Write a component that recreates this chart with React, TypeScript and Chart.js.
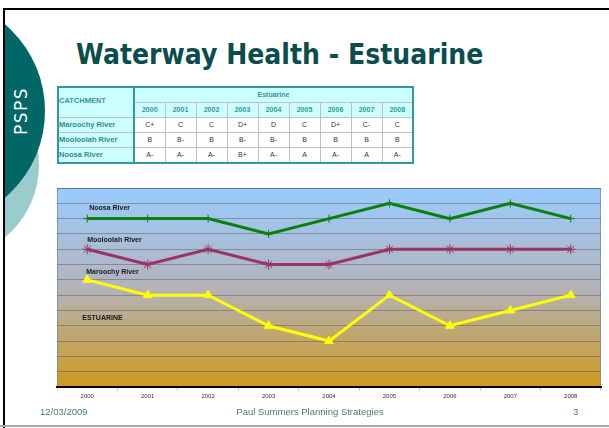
import React, { useEffect, useRef } from "react";
import { Chart, registerables } from "chart.js";

Chart.register(...registerables);

// ---- data ----
const years = ["2000", "2001", "2002", "2003", "2004", "2005", "2006", "2007", "2008"];
const gradeOrder = ["D", "D+", "C-", "C", "C+", "B-", "B", "B+", "A-", "A"]; // chart levels 3..12
const maroochyGrades = ["C+", "C", "C", "D+", "D", "C", "D+", "C-", "C"];
const mooloolahGrades = ["B", "B-", "B", "B-", "B-", "B", "B", "B", "B"];
const noosaGrades = ["A-", "A-", "A-", "B+", "A-", "A", "A-", "A", "A-"];
const rivers = ["Maroochy River", "Mooloolah River", "Noosa River"];
const chartLabels = ["Noosa River", "Mooloolah River", "Maroochy River", "ESTUARINE"];
const chartLabelLevels = [11.67, 9.59, 7.54, 4.48];
const yMin = 0;
const yMax = 13;

const level = (g: string) => gradeOrder.indexOf(g) + 3;

const TEAL = "#339999";

function ChartBox() {
  const ref = useRef<HTMLCanvasElement | null>(null);
  useEffect(() => {
    const canvas = ref.current!;
    const labelShift = [2, 0, -1, -5];
    const bgPlugin = {
      id: "bgGrad",
      beforeDraw(chart: any) {
        const { ctx, chartArea: a } = chart;
        const g = ctx.createLinearGradient(0, a.top, 0, a.bottom);
        g.addColorStop(0, "#99CCFF");
        g.addColorStop(0.5, "#B4B3BB");
        g.addColorStop(1, "#CC9A1C");
        ctx.save();
        ctx.fillStyle = g;
        ctx.fillRect(a.left, a.top, a.right - a.left, a.bottom - a.top);
        ctx.strokeStyle = "rgba(110,140,170,0.7)";
        ctx.lineWidth = 1;
        ctx.beginPath();
        ctx.moveTo(a.left + 0.5, a.bottom);
        ctx.lineTo(a.left + 0.5, a.top + 0.5);
        ctx.lineTo(a.right - 0.5, a.top + 0.5);
        ctx.lineTo(a.right - 0.5, a.bottom);
        ctx.stroke();
        ctx.restore();
      },
      afterDraw(chart: any) {
        const { ctx } = chart;
        const xs = chart.scales.x;
        const ys = chart.scales.y;
        ctx.save();
        ctx.font = "bold 7px 'Liberation Sans', Arial, sans-serif";
        ctx.fillStyle = "#1a1a1a";
        ctx.textAlign = "left";
        ctx.textBaseline = "middle";
        chartLabels.forEach((t, i) => {
          ctx.fillText(t, xs.getPixelForValue(0) + labelShift[i], ys.getPixelForValue(chartLabelLevels[i]));
        });
        ctx.restore();
      },
    };
    const chart = new Chart(canvas, {
      type: "line",
      data: {
        labels: years,
        datasets: [
          {
            label: "Noosa River",
            data: noosaGrades.map(level),
            borderColor: "#0A800A",
            backgroundColor: "#0A800A",
            borderWidth: 3,
            pointStyle: "cross",
            pointRadius: 4,
            pointBorderWidth: 1,
            pointBorderColor: "#0A800A",
          },
          {
            label: "Mooloolah River",
            data: mooloolahGrades.map(level),
            borderColor: "#993366",
            backgroundColor: "#993366",
            borderWidth: 3,
            pointStyle: "star",
            pointRadius: 5,
            pointBorderWidth: 1,
            pointBorderColor: "#993366",
          },
          {
            label: "Maroochy River",
            data: maroochyGrades.map(level),
            borderColor: "#FFFF00",
            backgroundColor: "#FFFF00",
            borderWidth: 3,
            pointStyle: "triangle",
            pointRadius: 5,
            pointBorderWidth: 1,
            pointBorderColor: "#FFFF00",
          },
        ],
      },
      options: {
        animation: false,
        responsive: false,
        maintainAspectRatio: false,
        layout: { padding: { left: 7, right: 8, top: 8, bottom: 10 } },
        plugins: { legend: { display: false }, tooltip: { enabled: false } },
        scales: {
          x: {
            offset: true,
            afterFit: (s: any) => {
              s.height = 23;
            },
            grid: {
              offset: true,
              drawOnChartArea: false,
              drawTicks: true,
              tickLength: 4,
              color: "#CCCCCC",
            },
            border: { display: true, color: "#000000", width: 2 },
            ticks: {
              color: "#333333",
              padding: 2,
              maxRotation: 0,
              font: { size: 6, family: "'Liberation Sans', Arial, sans-serif" },
            },
          },
          y: {
            min: yMin,
            max: yMax,
            afterFit: (s: any) => {
              s.width = 0;
            },
            ticks: { display: false, stepSize: 1 },
            grid: { color: "rgba(70,70,70,0.4)", lineWidth: 1, drawTicks: false },
            border: { display: false },
          },
        },
      },
      plugins: [bgPlugin],
    } as any);
    return () => chart.destroy();
  }, []);
  return (
    <canvas
      ref={ref}
      width={559}
      height={240}
      style={{ position: "absolute", left: 50, top: 180, width: 559, height: 240 }}
    />
  );
}

const cellBase: React.CSSProperties = {
  border: "1px solid #C0C0C0",
  padding: 0,
  height: 14,
  fontFamily: "'Liberation Sans', Arial, sans-serif",
  fontSize: 7,
  lineHeight: "10px",
  textAlign: "center",
  overflow: "hidden",
  whiteSpace: "nowrap",
};

function GradeTable() {
  const gradesRows = [maroochyGrades, mooloolahGrades, noosaGrades];
  const headCell: React.CSSProperties = {
    ...cellBase,
    background: "#CCFFFF",
    color: TEAL,
    fontWeight: "bold",
  };
  return (
    <table
      style={{
        position: "absolute",
        left: 57,
        top: 86,
        width: 355,
        borderCollapse: "collapse",
        tableLayout: "fixed",
        border: `2px solid ${TEAL}`,
      }}
    >
      <colgroup>
        <col style={{ width: 76 }} />
        {years.map((y) => (
          <col key={y} style={{ width: 31 }} />
        ))}
      </colgroup>
      <tbody>
        <tr>
          <td
            rowSpan={2}
            style={{
              ...headCell,
              textAlign: "left",
              fontSize: 7.5,
              borderRight: `2px solid ${TEAL}`,
              verticalAlign: "middle",
              paddingBottom: 3,
            }}
          >
            CATCHMENT
          </td>
          <td colSpan={9} style={{ ...headCell }}>
            Estuarine
          </td>
        </tr>
        <tr>
          {years.map((y) => (
            <td key={y} style={headCell}>
              {y}
            </td>
          ))}
        </tr>
        {rivers.map((r, i) => (
          <tr key={r}>
            <td
              style={{
                ...headCell,
                textAlign: "left",
                fontSize: 7.5,
                color: "#2C8C8C",
                borderRight: `2px solid ${TEAL}`,
              }}
            >
              {r}
            </td>
            {gradesRows[i].map((g, j) => (
              <td key={j} style={{ ...cellBase, background: "#FFFFFF", color: "#333333" }}>
                {g}
              </td>
            ))}
          </tr>
        ))}
      </tbody>
    </table>
  );
}

export default function App() {
  const footer: React.CSSProperties = {
    position: "absolute",
    top: 406,
    fontFamily: "'Liberation Sans', Arial, sans-serif",
    fontSize: 9.5,
    lineHeight: "12px",
    color: "#4A7C7C",
    whiteSpace: "nowrap",
  };
  return (
    <div
      style={{
        position: "fixed",
        left: 0,
        top: 0,
        width: 609,
        height: 428,
        background: "#FFFFFF",
        overflow: "hidden",
      }}
    >
      {/* slide frame */}
      <div style={{ position: "absolute", left: 5, top: 10, width: 604, height: 415, overflow: "hidden" }}>
        <div
          style={{
            position: "absolute",
            left: -55 - 94 - 5,
            top: 165 - 94 - 10,
            width: 188,
            height: 188,
            borderRadius: "50%",
            background: "#99CCCC",
          }}
        />
        <div
          style={{
            position: "absolute",
            left: -69 - 114 - 5,
            top: 111 - 114 - 10,
            width: 228,
            height: 228,
            borderRadius: "50%",
            background: "#006666",
          }}
        />
      </div>
      <div style={{ position: "absolute", left: 3, top: 8, width: 606, height: 2, background: "#000" }} />
      <div style={{ position: "absolute", left: 3, top: 8, width: 2, height: 420, background: "#000" }} />
      <div style={{ position: "absolute", left: 0, top: 425, width: 609, height: 2, background: "#A8A8A8" }} />
      <div
        style={{
          position: "absolute",
          left: 21,
          top: 111,
          transform: "translate(-50%, -50%) rotate(-90deg)",
          color: "#FFFFFF",
          fontFamily: "'DejaVu Sans', sans-serif",
          fontSize: 17,
          letterSpacing: 1.5,
          lineHeight: 1,
          whiteSpace: "nowrap",
        }}
      >
        PSPS
      </div>
      <div
        style={{
          position: "absolute",
          left: 76,
          top: 41,
          fontFamily: "'DejaVu Sans', sans-serif",
          fontWeight: "bold",
          fontSize: 28,
          lineHeight: 1,
          color: "#0B4C4C",
          whiteSpace: "nowrap",
          transform: "scaleX(0.9)",
          transformOrigin: "left top",
        }}
      >
        Waterway Health - Estuarine
      </div>
      <GradeTable />
      <ChartBox />
      <div style={{ ...footer, left: 40 }}>12/03/2009</div>
      <div style={{ ...footer, left: 310, transform: "translateX(-50%)" }}>Paul Summers Planning Strategies</div>
      <div style={{ ...footer, left: 573 }}>3</div>
    </div>
  );
}
